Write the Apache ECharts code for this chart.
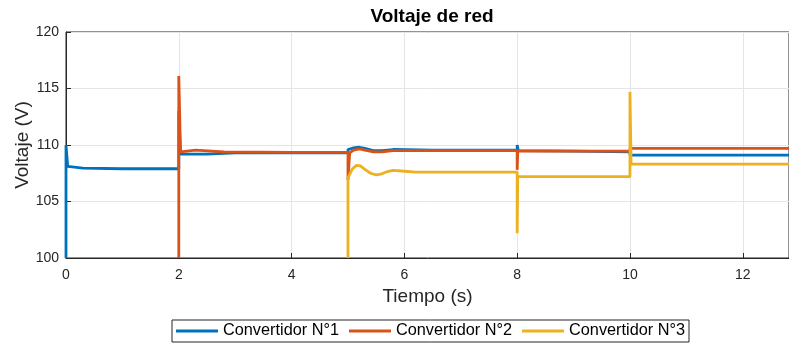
<!DOCTYPE html>
<html>
<head>
<meta charset="utf-8">
<script src="https://cdn.jsdelivr.net/npm/echarts@6/dist/echarts.min.js"></script>
<style>
  html, body { margin: 0; padding: 0; background: #fff; }
  #chart { width: 789px; height: 349px; }
</style>
</head>
<body>
<div id="chart"></div>
<script>
// Voltaje de red - 3 convertidores
var seriesNames = ['Convertidor N°1', 'Convertidor N°2', 'Convertidor N°3'];
var xTicks = [0, 2, 4, 6, 8, 10, 12];
var yTicks = [100, 105, 110, 115, 120];

// Convertidor N°1 (tiempo / voltaje)
var conv1T = [0, 0, 0.03, 0.3, 1.0, 2.0, 2.0, 2.03, 2.5, 3.0, 4.0, 5.0, 5.0, 5.1, 5.2, 5.3, 5.45, 5.6, 5.8, 6.5, 8.0, 8.0, 8.02, 9.0, 10.0, 10.0, 12.82];
var conv1V = [100, 110, 108.1, 107.95, 107.9, 107.9, 113, 109.2, 109.2, 109.3, 109.3, 109.3, 109.6, 109.75, 109.8, 109.7, 109.5, 109.5, 109.6, 109.55, 109.55, 110, 109.5, 109.45, 109.4, 109.1, 109.1];

// Convertidor N°2
var conv2T = [2.0, 2.0, 2.03, 2.3, 2.8, 4.0, 5.0, 5.0, 5.03, 5.1, 5.2, 5.3, 5.45, 5.6, 5.8, 6.5, 8.0, 8.0, 8.01, 9.0, 10.0, 10.0, 12.82];
var conv2V = [100, 116.1, 109.4, 109.55, 109.4, 109.35, 109.35, 106.9, 109.3, 109.55, 109.65, 109.55, 109.4, 109.4, 109.5, 109.5, 109.5, 107.8, 109.45, 109.45, 109.45, 109.7, 109.7];

// Convertidor N°3
var conv3T = [5.0, 5.0, 5.08, 5.15, 5.22, 5.3, 5.4, 5.5, 5.6, 5.7, 5.8, 5.95, 6.2, 7.0, 8.0, 8.0, 8.01, 9.0, 10.0, 10.0, 10.02, 12.82];
var conv3V = [100, 107.1, 107.9, 108.2, 108.15, 107.85, 107.5, 107.35, 107.45, 107.65, 107.75, 107.7, 107.6, 107.6, 107.6, 102.2, 107.2, 107.2, 107.2, 114.7, 108.3, 108.3];

var colors = ['#0072BD', '#D95319', '#EDB120'];

function pairs(t, v) {
  return t.map(function (x, i) { return [x, v[i]]; });
}

var chart = echarts.init(document.getElementById('chart'));
var font = 'Liberation Sans, Arial, sans-serif';

chart.setOption({
  animation: false,
  backgroundColor: '#fff',
  title: {
    text: 'Voltaje de red',
    left: 432, top: 7, textAlign: 'center', padding: 0,
    textStyle: { fontFamily: font, fontSize: 19, fontWeight: 'bold', color: '#000' }
  },
  grid: {
    left: 66, right: 0, top: 32, bottom: 91,
    containLabel: false, outerBoundsMode: 'none',
    show: true, borderColor: '#262626', borderWidth: 1, backgroundColor: '#fff'
  },
  legend: {
    data: seriesNames,
    left: 172, top: 320,
    padding: [3, 4, 3, 4],
    itemGap: 10,
    itemWidth: 42, itemHeight: 3,
    icon: 'rect',
    borderColor: '#262626', borderWidth: 1,
    textStyle: { fontFamily: font, fontSize: 16.3, color: '#000' }
  },
  xAxis: {
    type: 'value', min: 0, max: 12.82, interval: 2,
    name: 'Tiempo (s)', nameLocation: 'middle', nameGap: 29,
    nameTextStyle: { fontFamily: font, fontSize: 19, color: '#262626' },
    axisLine: { lineStyle: { color: '#262626' } },
    axisTick: { inside: true, length: 5, lineStyle: { color: '#262626' } },
    axisLabel: {
      fontFamily: font, fontSize: 14, color: '#262626', margin: 10,
      showMaxLabel: false,
      formatter: function (v) { return xTicks.indexOf(v) >= 0 ? String(v) : ''; }
    },
    splitLine: { show: true, lineStyle: { color: '#e5e5e5' } }
  },
  yAxis: {
    type: 'value', min: 100, max: 120, interval: 5,
    name: 'Voltaje (V)', nameLocation: 'middle', nameGap: 34, nameMoveOverlap: false,
    nameTextStyle: { fontFamily: font, fontSize: 19, color: '#262626' },
    axisLine: { show: true, lineStyle: { color: '#262626' } },
    axisTick: { show: true, inside: true, length: 5, lineStyle: { color: '#262626' } },
    axisLabel: {
      fontFamily: font, fontSize: 14, color: '#262626', margin: 7,
      formatter: function (v) { return yTicks.indexOf(v) >= 0 ? String(v) : ''; }
    },
    splitLine: { show: true, lineStyle: { color: '#e5e5e5' } }
  },
  series: [
    { name: seriesNames[0], type: 'line', showSymbol: false, data: pairs(conv1T, conv1V),
      lineStyle: { width: 2.8, color: colors[0] }, itemStyle: { color: colors[0] } },
    { name: seriesNames[1], type: 'line', showSymbol: false, data: pairs(conv2T, conv2V),
      lineStyle: { width: 2.8, color: colors[1] }, itemStyle: { color: colors[1] } },
    { name: seriesNames[2], type: 'line', showSymbol: false, data: pairs(conv3T, conv3V),
      lineStyle: { width: 2.8, color: colors[2] }, itemStyle: { color: colors[2] } }
  ]
});
</script>
</body>
</html>
